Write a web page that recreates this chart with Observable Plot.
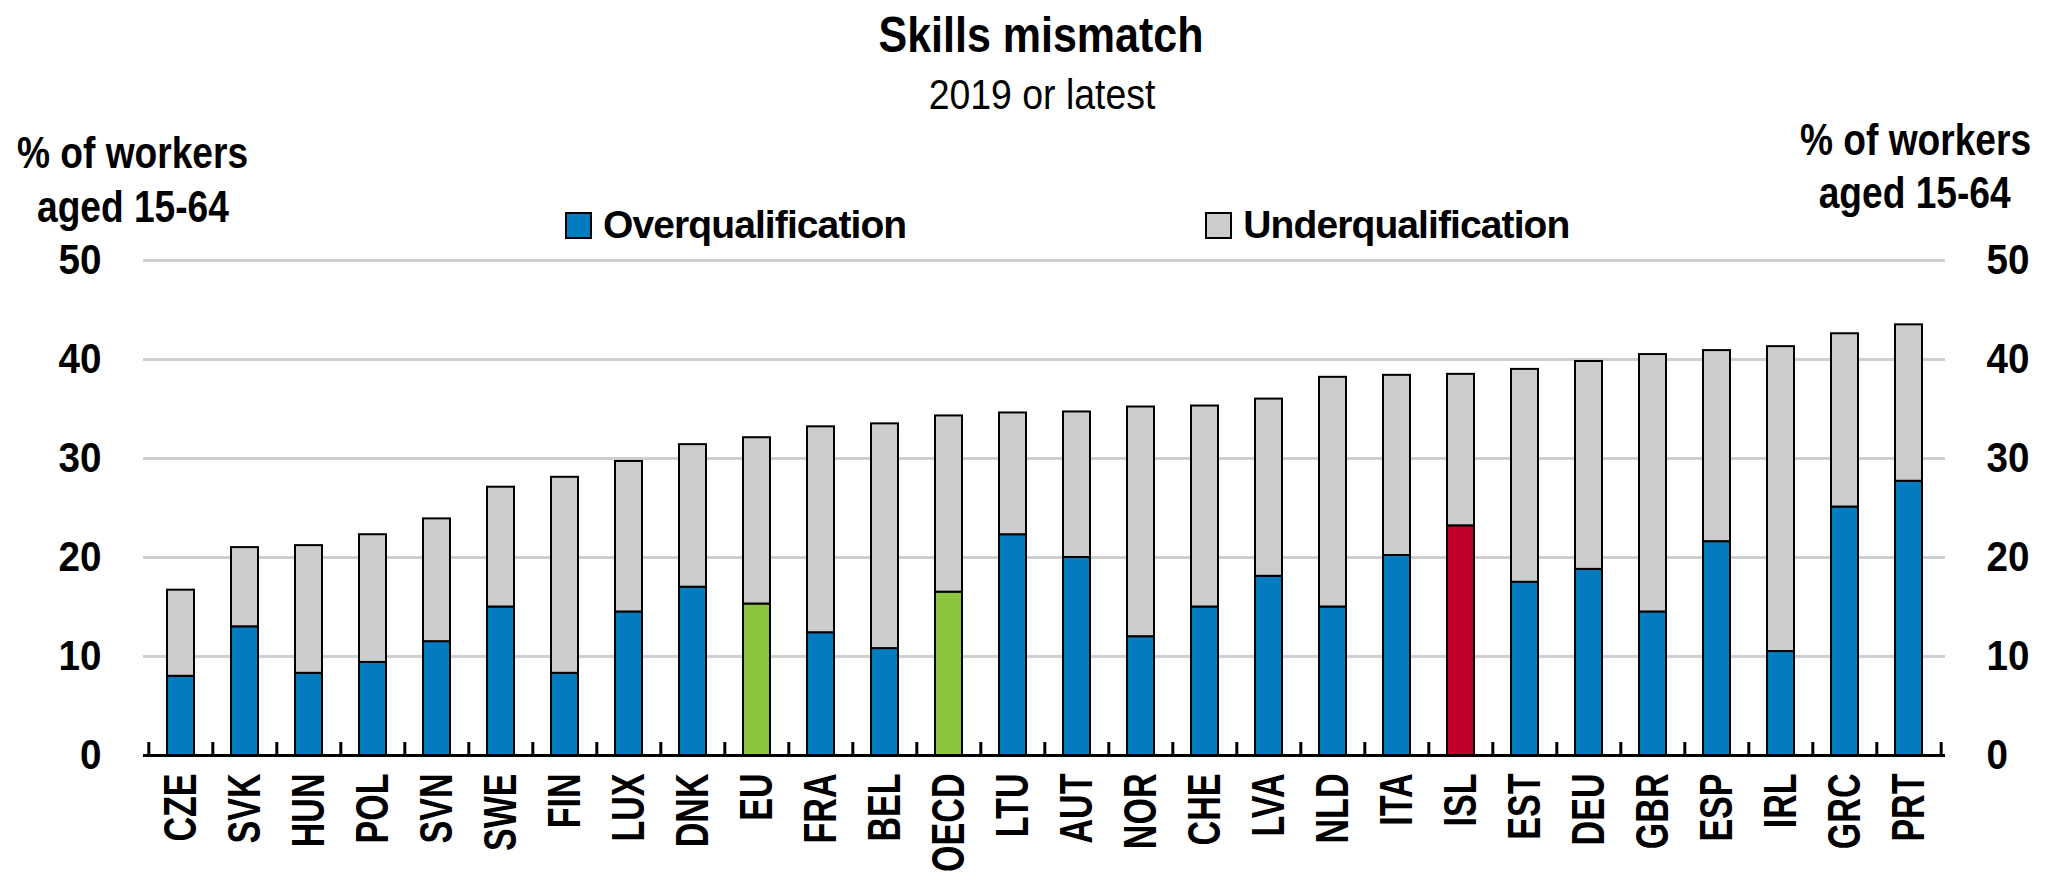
<!DOCTYPE html>
<html>
<head>
<meta charset="utf-8">
<script src="https://cdn.jsdelivr.net/npm/d3@7"></script>
<script src="https://cdn.jsdelivr.net/npm/@observablehq/plot@0.6"></script>
<style>
  html, body { margin: 0; padding: 0; background: #fff; }
  body { width: 2054px; height: 884px; overflow: hidden; font-family: "Liberation Sans", Arial, sans-serif; color: #000; }
  #root { position: relative; width: 2054px; height: 884px; }
  #header { position: relative; height: 110px; }
  .title { position: absolute; left: 1041px; top: 10px; font-size: 50px; line-height: 50px; font-weight: bold; white-space: nowrap; transform: translateX(-50%) scaleX(0.86); }
  .subtitle { position: absolute; left: 1042px; top: 73px; font-size: 43px; line-height: 43px; white-space: nowrap; transform: translateX(-50%) scaleX(0.87); }
  .ytitle { position: absolute; font-size: 45px; line-height: 45px; font-weight: bold; white-space: nowrap; z-index: 2; }
  .ytitle.left { transform-origin: 0 50%; transform: scaleX(0.825); }
  .ytitle.right { transform-origin: 100% 50%; transform: scaleX(0.825); }
  #legend { position: absolute; left: 566px; top: 203px; z-index: 2; }
  #legend .lg-swatches { font-family: "Liberation Sans", Arial, sans-serif; font-size: 39px; font-weight: bold; color: #000; margin: 0; min-height: 0; }
  #legend .lg-swatch { margin-right: 300px; letter-spacing: -0.9px; }
  #legend .lg-swatch > svg { margin-right: 12px; }
  #legend .lg-swatch svg rect { stroke: #000; stroke-width: 2px; }
  #chart svg { display: block; }
</style>
</head>
<body>
<div id="root">
  <div id="header">
    <div class="title" id="title"></div>
    <div class="subtitle" id="subtitle"></div>
  </div>
  <div class="ytitle left" id="yl1" style="left:17px;top:130px;"></div>
  <div class="ytitle left" id="yl2" style="left:37px;top:184px;"></div>
  <div class="ytitle right" id="yr1" style="right:23px;top:117px;"></div>
  <div class="ytitle right" id="yr2" style="right:43px;top:170px;"></div>
  <div id="legend"></div>
  <div id="chart"></div>
</div>
<script>
// ---- Data ----
const titleText = "Skills mismatch";
const subtitleText = "2019 or latest";
const axisTitleLines = ["% of workers", "aged 15-64"];
const seriesNames = ["Overqualification", "Underqualification"];
const countries = ["CZE","SVK","HUN","POL","SVN","SWE","FIN","LUX","DNK","EU","FRA","BEL","OECD","LTU","AUT","NOR","CHE","LVA","NLD","ITA","ISL","EST","DEU","GBR","ESP","IRL","GRC","PRT"];
const overqualification = [8.0, 13.0, 8.3, 9.4, 11.5, 15.0, 8.3, 14.5, 17.0, 15.3, 12.4, 10.8, 16.5, 22.3, 20.0, 12.0, 15.0, 18.1, 15.0, 20.2, 23.2, 17.5, 18.8, 14.5, 21.6, 10.5, 25.1, 27.7];
const underqualification = [8.7, 8.0, 12.9, 12.9, 12.4, 12.1, 19.8, 15.2, 14.4, 16.8, 20.8, 22.7, 17.8, 12.3, 14.7, 23.2, 20.3, 17.9, 23.2, 18.2, 15.3, 21.5, 21.0, 26.0, 19.3, 30.8, 17.5, 15.8];
const aggregates = ["EU", "OECD"];
const focusCountry = "ISL";
const yTicks = [0, 10, 20, 30, 40, 50];

// ---- Styles ----
const palette = {
  "Overqualification": "#037bc1",
  "Underqualification": "#cccccc",
  "Aggregate": "#8cc63f",
  "Focus": "#c00028"
};
const FONT = "'Liberation Sans', Arial, sans-serif";

document.getElementById("title").textContent = titleText;
document.getElementById("subtitle").textContent = subtitleText;
document.getElementById("yl1").textContent = axisTitleLines[0];
document.getElementById("yl2").textContent = axisTitleLines[1];
document.getElementById("yr1").textContent = axisTitleLines[0];
document.getElementById("yr2").textContent = axisTitleLines[1];

const rows = countries.map((c, i) => ({country: c, over: overqualification[i], under: underqualification[i]}));
const group = (c) => aggregates.includes(c) ? "Aggregate" : (c === focusCountry ? "Focus" : "Overqualification");

const W = 2054, H = 774, mL = 143, mR = 109, mT = 150, mB = 129;
const step = (W - mL - mR) / countries.length;

const plot = Plot.plot({
  width: W, height: H,
  marginLeft: mL, marginRight: mR, marginTop: mT, marginBottom: mB,
  style: {fontFamily: FONT, color: "#000", background: "#fff", overflow: "visible"},
  x: {domain: countries, paddingInner: 0.58, paddingOuter: 0.29, axis: null},
  y: {domain: [0, 50], axis: null},
  color: {domain: Object.keys(palette), range: Object.values(palette)},
  marks: [
    Plot.ruleY(yTicks.filter(t => t > 0), {stroke: "#cfcfcf", strokeWidth: 3}),
    Plot.barY(rows, {x: "country", y1: 0, y2: "over", fill: d => group(d.country), stroke: "#000", strokeWidth: 2}),
    Plot.barY(rows, {x: "country", y1: "over", y2: d => d.over + d.under, fill: () => "Underqualification", stroke: "#000", strokeWidth: 2}),
    Plot.ruleY([0], {stroke: "#000", strokeWidth: 3}),
    Plot.ruleX(countries, {x: d => d, y1: 0, y2: 0, dx: -step / 2, insetTop: -13, stroke: "#000", strokeWidth: 3}),
    Plot.ruleX(countries.slice(-1), {x: d => d, y1: 0, y2: 0, dx: step / 2, insetTop: -13, stroke: "#000", strokeWidth: 3}),
    Plot.axisX({tickRotate: -90, tickSize: 0, tickPadding: 18, fontSize: 46, fontWeight: "bold", label: null}),
    Plot.axisY({anchor: "left", ticks: yTicks, tickSize: 0, tickPadding: 42, fontSize: 42, fontWeight: "bold", label: null}),
    Plot.axisY({anchor: "right", ticks: yTicks, tickSize: 0, tickPadding: 41, fontSize: 42, fontWeight: "bold", label: null})
  ]
});
document.getElementById("chart").append(plot);

const legend = Plot.legend({
  legend: "swatches",
  className: "lg",
  swatchSize: 25,
  color: {domain: seriesNames, range: seriesNames.map(s => palette[s])}
});
document.getElementById("legend").append(legend);

// Condensed lettering like the original (narrow bold face)
d3.select(plot).selectAll("text").each(function() {
  if (this.querySelector("tspan")) return;
  const tr = this.getAttribute("transform") || "";
  const k = tr.includes("rotate") ? 0.74 : 0.92;
  const len = this.getComputedTextLength();
  if (len > 0) {
    this.setAttribute("textLength", (len * k).toFixed(1));
    this.setAttribute("lengthAdjust", "spacingAndGlyphs");
  }
});
</script>
</body>
</html>
